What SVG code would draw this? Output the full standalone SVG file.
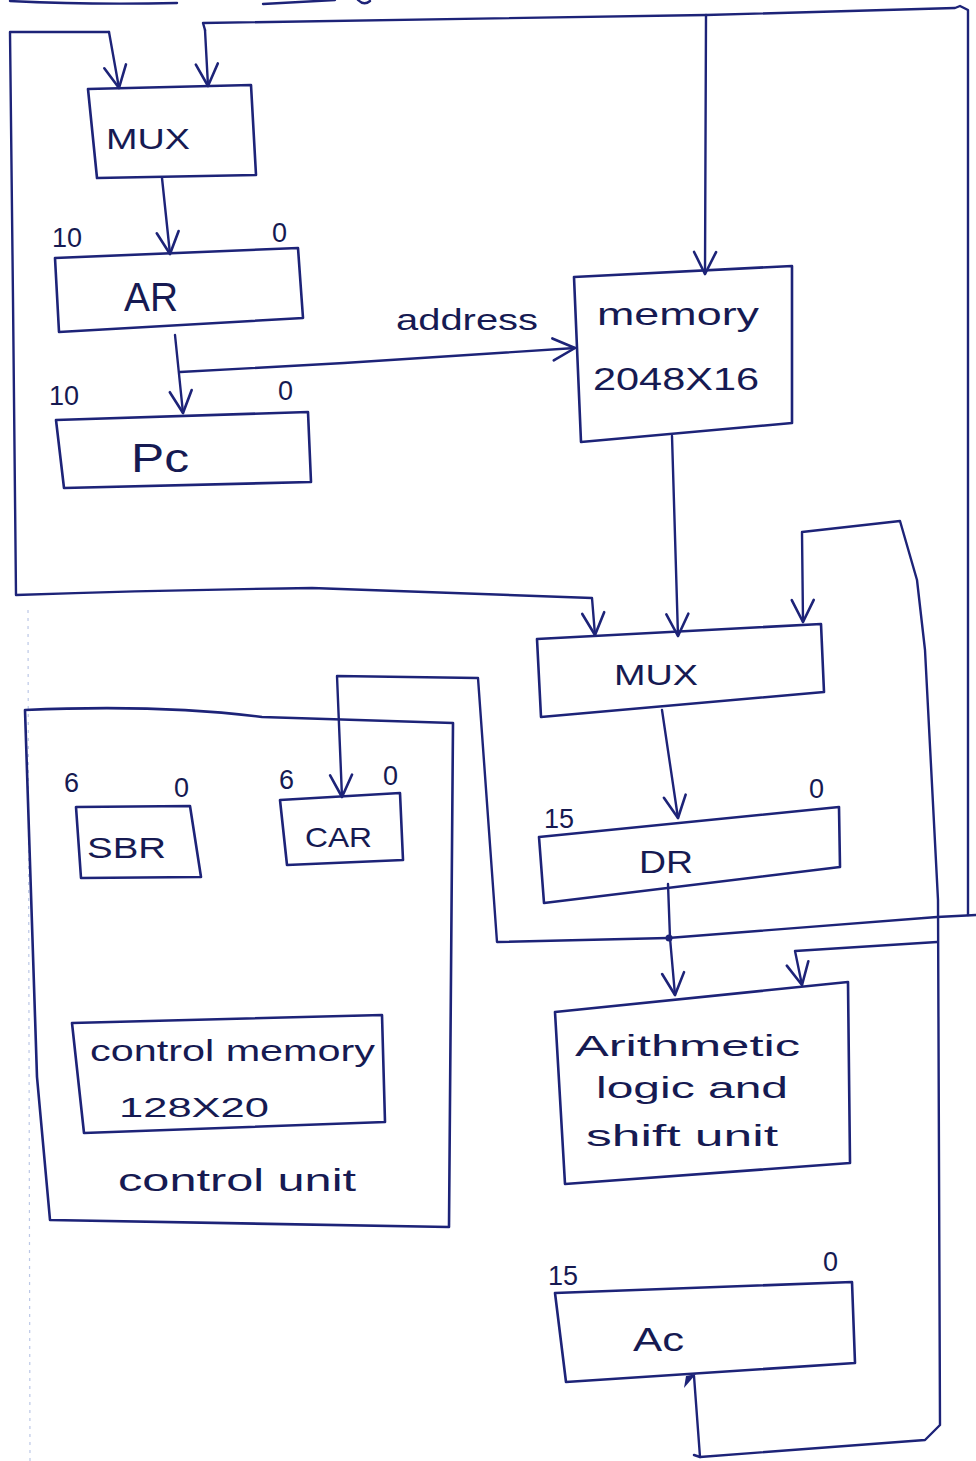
<svg xmlns="http://www.w3.org/2000/svg" width="976" height="1461" viewBox="0 0 976 1461">
  <style>
    .box { fill: none; stroke: #1d2378; stroke-width: 2.6; stroke-linejoin: round; stroke-linecap: round; }
    .wire { fill: none; stroke: #1d2378; stroke-width: 2.4; stroke-linejoin: round; stroke-linecap: round; }
    .arr { marker-end: url(#vee); }
    .lbl { font-family: "Liberation Sans", "DejaVu Sans", sans-serif; fill: #161a52; }
    .bit { font-family: "Liberation Sans", "DejaVu Sans", sans-serif; fill: #161a52; font-size: 27px; }
    .margin { fill: none; stroke: #8fa3d6; stroke-width: 1.2; stroke-dasharray: 3 5; opacity: 0.6; }
  </style>
  <defs>
    <marker id="vee" viewBox="-26 -14 30 28" markerWidth="30" markerHeight="28" refX="0" refY="0" orient="auto" markerUnits="userSpaceOnUse">
      <path d="M-22,-11 L0,0 L-22,11" fill="none" stroke="#1d2378" stroke-width="2.6" stroke-linecap="round" stroke-linejoin="round"/>
    </marker>
  </defs>

  <rect width="976" height="1461" fill="#ffffff"/>

  <!-- page margin and clipped strokes along the top edge -->
  <path class="margin" d="M28,610 L30,1461"/>
  <path class="wire" d="M10,1 Q90,5 177,3"/>
  <path class="wire" d="M263,4 L335,0"/>
  <path class="wire" d="M358,0 Q364,6 370,1"/>

  <!-- connectors -->
  <g id="connectors">
    <!-- left loop: feeds upper MUX and lower MUX -->
    <path class="wire arr" d="M109,32 L10,32 L13,300 L16,595 Q160,590 312,588 L592,598 L595,635"/>
    <path class="wire arr" d="M109,32 L119,88"/>
    <!-- DR output bus: right edge, across top, into memory and upper MUX -->
    <path class="wire" d="M668,938 L937,917 L976,915"/>
    <path class="wire" d="M968,915 L968,10 L960,6 L955,8 L706,15 L203,23 L205,30"/>
    <path class="wire arr" d="M205,30 L208,86"/>
    <path class="wire arr" d="M706,15 L705,274"/>
    <!-- upper MUX to AR -->
    <path class="wire arr" d="M162,178 L170,254"/>
    <!-- AR to PC, and address bus to memory -->
    <path class="wire arr" d="M175,335 L183,413"/>
    <path class="wire arr" d="M180,372 L344,363 L575,348"/>
    <!-- memory to lower MUX -->
    <path class="wire arr" d="M672,436 L678,636"/>
    <!-- lower MUX to DR -->
    <path class="wire arr" d="M662,710 L678,818"/>
    <!-- DR junction to ALU and to CAR -->
    <path class="wire arr" d="M668,884 L670,938 L675,995"/>
    <path class="wire arr" d="M668,938 L497,942 L478,678 L337,676 L342,797"/>
    <circle cx="669" cy="938" r="3.5" fill="#1d2378"/>
    <!-- AC feedback loop: to ALU and lower MUX -->
    <path class="wire arr" d="M694,1455 L700,1457 L925,1440 L940,1425 L938,900 L925,650 L917,580 L900,521 L802,532 L803,622"/>
    <path class="wire arr" d="M937,942 L795,951 L802,985"/>
    <path class="wire" d="M700,1457 L694,1376"/>
    <path d="M686,1376 L696,1374 L684,1388 Z" fill="#1d2378"/>
  </g>

  <!-- upper multiplexer -->
  <g id="mux-top">
    <path class="box" d="M88,89 L251,85 L256,175 L97,178 Z"/>
    <text class="lbl" x="106" y="149" font-size="30" textLength="84" lengthAdjust="spacingAndGlyphs">MUX</text>
  </g>

  <!-- address register -->
  <g id="ar">
    <text class="bit" x="52" y="247">10</text>
    <text class="bit" x="272" y="242">0</text>
    <path class="box" d="M55,258 L298,248 L303,318 L59,332 Z"/>
    <text class="lbl" x="124" y="311" font-size="40" textLength="54" lengthAdjust="spacingAndGlyphs">AR</text>
  </g>

  <!-- program counter -->
  <g id="pc">
    <text class="bit" x="49" y="405">10</text>
    <text class="bit" x="278" y="400">0</text>
    <path class="box" d="M56,420 L308,412 L311,482 L64,488 Z"/>
    <text class="lbl" x="131" y="472" font-size="40" textLength="58" lengthAdjust="spacingAndGlyphs">Pc</text>
  </g>

  <!-- address label -->
  <text class="lbl" x="396" y="330" font-size="30" textLength="142" lengthAdjust="spacingAndGlyphs">address</text>

  <!-- main memory -->
  <g id="memory">
    <path class="box" d="M574,277 L792,266 L792,423 L581,442 Z"/>
    <text class="lbl" x="597" y="325" font-size="32" textLength="162" lengthAdjust="spacingAndGlyphs">memory</text>
    <text class="lbl" x="593" y="390" font-size="32" textLength="166" lengthAdjust="spacingAndGlyphs">2048X16</text>
  </g>

  <!-- lower multiplexer -->
  <g id="mux-bottom">
    <path class="box" d="M537,639 L821,624 L824,692 L541,717 Z"/>
    <text class="lbl" x="614" y="685" font-size="30" textLength="84" lengthAdjust="spacingAndGlyphs">MUX</text>
  </g>

  <!-- data register -->
  <g id="dr">
    <text class="bit" x="544" y="828">15</text>
    <text class="bit" x="809" y="798">0</text>
    <path class="box" d="M539,837 L839,807 L840,867 L544,903 Z"/>
    <text class="lbl" x="639" y="873" font-size="32" textLength="54" lengthAdjust="spacingAndGlyphs">DR</text>
  </g>

  <!-- control unit -->
  <g id="control-unit">
    <path class="box" d="M25,710 Q160,704 262,717 L453,723 L449,1227 L50,1220 L37,1077 Z"/>
    <text class="lbl" x="118" y="1191" font-size="32" textLength="238" lengthAdjust="spacingAndGlyphs">control unit</text>
  </g>

  <!-- subroutine register -->
  <g id="sbr">
    <text class="bit" x="64" y="792">6</text>
    <text class="bit" x="174" y="797">0</text>
    <path class="box" d="M76,807 L190,806 L201,877 L81,878 Z"/>
    <text class="lbl" x="87" y="858" font-size="30" textLength="79" lengthAdjust="spacingAndGlyphs">SBR</text>
  </g>

  <!-- control address register -->
  <g id="car">
    <text class="bit" x="279" y="789">6</text>
    <text class="bit" x="383" y="785">0</text>
    <path class="box" d="M280,800 L400,793 L403,860 L287,865 Z"/>
    <text class="lbl" x="305" y="847" font-size="28" textLength="67" lengthAdjust="spacingAndGlyphs">CAR</text>
  </g>

  <!-- control memory -->
  <g id="control-memory">
    <path class="box" d="M72,1023 L382,1015 L385,1122 L84,1133 Z"/>
    <text class="lbl" x="90" y="1061" font-size="30" textLength="285" lengthAdjust="spacingAndGlyphs">control memory</text>
    <text class="lbl" x="119" y="1117" font-size="28" textLength="150" lengthAdjust="spacingAndGlyphs">128X20</text>
  </g>

  <!-- arithmetic logic and shift unit -->
  <g id="alu">
    <path class="box" d="M555,1012 L848,982 L850,1163 L565,1184 Z"/>
    <text class="lbl" x="575" y="1056" font-size="30" textLength="225" lengthAdjust="spacingAndGlyphs">Arithmetic</text>
    <text class="lbl" x="596" y="1098" font-size="30" textLength="192" lengthAdjust="spacingAndGlyphs">logic  and</text>
    <text class="lbl" x="586" y="1146" font-size="30" textLength="192" lengthAdjust="spacingAndGlyphs">shift unit</text>
  </g>

  <!-- accumulator -->
  <g id="ac">
    <text class="bit" x="548" y="1285">15</text>
    <text class="bit" x="823" y="1271">0</text>
    <path class="box" d="M555,1293 L852,1282 L855,1363 L566,1382 Z"/>
    <text class="lbl" x="633" y="1351" font-size="34" textLength="51" lengthAdjust="spacingAndGlyphs">Ac</text>
  </g>
</svg>
